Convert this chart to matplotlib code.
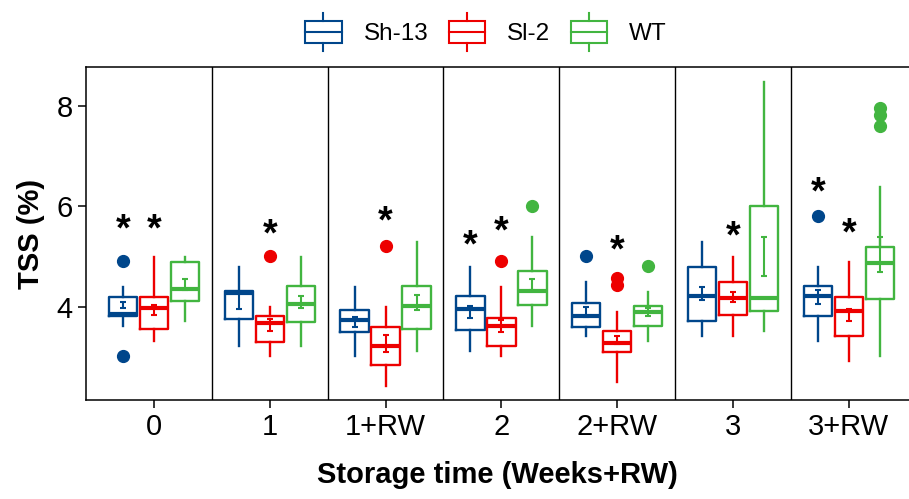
import matplotlib
matplotlib.use('Agg')
import matplotlib.pyplot as plt
from matplotlib.patches import Patch, Rectangle
from matplotlib.lines import Line2D
from matplotlib.legend_handler import HandlerBase

plt.rcParams['font.family'] = ['Liberation Sans', 'DejaVu Sans']

times = ['0', '1', '1+RW', '2', '2+RW', '3', '3+RW']
genotypes = ['Sh-13', 'Sl-2', 'WT']
colors = {'Sh-13': '#00468B', 'Sl-2': '#ED0000', 'WT': '#42B540'}

whislo = {'Sh-13': [3.62, 3.22, 3.03, 3.13, 3.42, 3.42, 3.32],
          'Sl-2':  [3.32, 3.03, 2.43, 3.03, 2.51, 3.42, 2.93],
          'WT':    [3.72, 3.22, 3.13, 3.62, 3.32, 3.52, 3.03]}
q1 = {'Sh-13': [3.81, 3.76, 3.51, 3.54, 3.61, 3.73, 3.81],
      'Sl-2':  [3.56, 3.31, 2.84, 3.23, 3.11, 3.83, 3.43],
      'WT':    [4.11, 3.71, 3.57, 4.03, 3.63, 3.91, 4.16]}
med = {'Sh-13': [3.86, 4.27, 3.74, 3.95, 3.82, 4.22, 4.22],
       'Sl-2':  [3.97, 3.68, 3.22, 3.63, 3.29, 4.18, 3.91],
       'WT':    [4.36, 4.06, 4.02, 4.32, 3.89, 4.17, 4.87]}
q3 = {'Sh-13': [4.19, 4.32, 3.93, 4.22, 4.07, 4.79, 4.42],
      'Sl-2':  [4.19, 3.82, 3.60, 3.79, 3.52, 4.50, 4.19],
      'WT':    [4.89, 4.42, 4.42, 4.72, 4.02, 6.01, 5.19]}
whishi = {'Sh-13': [4.40, 4.80, 4.40, 4.80, 4.50, 5.30, 4.80],
          'Sl-2':  [5.00, 3.99, 4.00, 4.40, 3.89, 5.00, 4.90],
          'WT':    [5.00, 5.00, 5.30, 5.40, 4.30, 8.48, 6.39]}
means = {'Sh-13': [4.03, 4.12, 3.70, 3.90, 3.90, 4.27, 4.20],
         'Sl-2':  [3.94, 3.64, 3.28, 3.62, 3.35, 4.20, 3.84],
         'WT':    [4.45, 4.10, 4.09, 4.45, 3.89, 5.00, 5.04]}
se = {'Sh-13': [0.06, 0.155, 0.095, 0.115, 0.095, 0.13, 0.14],
      'Sl-2':  [0.10, 0.115, 0.17, 0.125, 0.08, 0.105, 0.125],
      'WT':    [0.11, 0.125, 0.15, 0.115, 0.08, 0.385, 0.35]}
fliers = {'Sh-13': [[4.91, 3.03], [], [], [], [5.01], [], [5.81]],
          'Sl-2':  [[], [5.01], [5.21], [4.91], [4.57, 4.44], [], []],
          'WT':    [[], [], [], [6.01], [4.82], [], [7.95, 7.82, 7.60]]}
stars = {'Sh-13': [5.69, None, None, 5.37, None, None, 6.43],
         'Sl-2':  [5.69, 5.60, 5.86, 5.66, 5.27, 5.56, 5.62],
         'WT':    [None] * 7}

offsets = {'Sh-13': -0.268, 'Sl-2': 0.0, 'WT': 0.268}

fig = plt.figure(figsize=(9.09, 4.99), dpi=100)
ax = fig.add_axes([86 / 909, 1 - 400 / 499, 823 / 909, 333 / 499])

for g in genotypes:
    c = colors[g]
    stats = []
    pos = []
    for i in range(len(times)):
        stats.append(dict(med=med[g][i], q1=q1[g][i], q3=q3[g][i],
                          whislo=whislo[g][i], whishi=whishi[g][i],
                          fliers=fliers[g][i]))
        pos.append(i + offsets[g])
    ax.bxp(stats, positions=pos, widths=0.245, showcaps=False,
           boxprops=dict(color=c, linewidth=1.7),
           whiskerprops=dict(color=c, linewidth=1.7),
           medianprops=dict(color=c, linewidth=3.0, solid_capstyle='butt'),
           flierprops=dict(marker='o', markerfacecolor=c, markeredgecolor=c,
                           markersize=8.5))
    ax.errorbar(pos, means[g], yerr=se[g], fmt='none', ecolor=c,
                elinewidth=1.5, capsize=2.4, capthick=1.5, zorder=4)
    for i, s in enumerate(stars[g]):
        if s is not None:
            ax.annotate('*', (pos[i], s), xytext=(0, -13.5), textcoords='offset points',
                        ha='center', va='baseline', fontsize=27, fontweight='bold')

for b in [0.5, 1.5, 2.5, 3.5, 4.5, 5.5]:
    ax.axvline(b, color='black', linewidth=1.0)

ax.set_xlim(-0.587, 6.52)
ax.set_ylim(2.15, 8.77)
ax.set_xticks(range(len(times)))
ax.set_xticklabels(times)
ax.set_yticks([4, 6, 8])
ax.tick_params(labelsize=21, length=6, width=1.1, color='black')
for sp in ax.spines.values():
    sp.set_linewidth(1.1)
ax.spines['right'].set_visible(False)
ax.set_xlabel('Storage time (Weeks+RW)', fontsize=21, fontweight='bold', labelpad=14)
ax.set_ylabel('TSS (%)', fontsize=21, fontweight='bold', labelpad=8)


class BoxHandler(HandlerBase):
    def create_artists(self, legend, orig_handle, xdescent, ydescent,
                       width, height, fontsize, trans):
        c = orig_handle.get_edgecolor()
        x0, y0 = -xdescent, -ydescent
        rect = Rectangle((x0, y0), width, height, facecolor='white',
                         edgecolor=c, linewidth=1.5, transform=trans)
        mid = Line2D([x0, x0 + width], [y0 + height / 2] * 2, color=c,
                     linewidth=1.5, transform=trans)
        top = Line2D([x0 + width / 2] * 2, [y0 + height, y0 + height + 6],
                     color=c, linewidth=1.5, transform=trans)
        bot = Line2D([x0 + width / 2] * 2, [y0 - 6, y0], color=c,
                     linewidth=1.5, transform=trans)
        return [rect, mid, top, bot]


handles = [Patch(facecolor='white', edgecolor=colors[g], label=g) for g in genotypes]
fig.legend(handles=handles, loc='center', bbox_to_anchor=(486 / 909, 1 - 33 / 499),
           ncol=3, frameon=False, fontsize=17.5, handlelength=1.5, handleheight=1.0,
           handletextpad=0.9, columnspacing=0.85,
           handler_map={Patch: BoxHandler()})

fig.savefig('out.png', dpi=100)
